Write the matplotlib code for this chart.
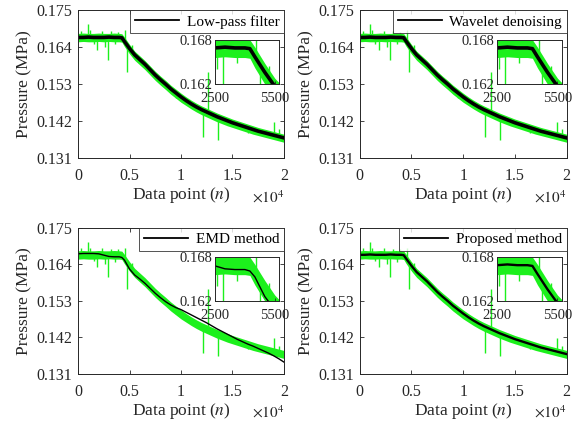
import matplotlib.pyplot as plt

plt.rcParams['font.family'] = 'Liberation Serif'
plt.rcParams['mathtext.fontset'] = 'stix'

# sample positions (data point index)
x = [0, 500, 1000, 1500, 2000, 2500, 3000, 3500, 4000, 4250, 4500, 5000, 5500, 6000,
     6500, 7000, 7500, 8000, 8500, 9000, 9500, 10000, 10500, 11000, 11500, 12000,
     12500, 13000, 13500, 14000, 14500, 15000, 15500, 16000, 16500, 17000, 17500,
     18000, 18500, 19000, 19500, 20000]

# filtered pressure (MPa) - low-pass / wavelet / proposed look alike
smooth = [.1669, .1669, .1670, .1669, .1669, .1669, .1670, .1669, .1669, .1668,
          .1657, .1636, .1617, .1603, .1589, .1573, .1557, .1543, .1530, .1516, .1504, .1492,
          .1481, .1471, .1462, .1454, .1447, .1440, .1433, .1427, .1421, .1415,
          .1410, .1405, .1400, .1395, .1390, .1386, .1382, .1378, .1374, .1370]

# EMD result
emd = [.1672, .1673, .1673, .1673, .1672, .1668, .1664, .1663, .1663, .1661,
       .1653, .1626, .1608, .1596, .1583, .1568, .1553, .1540, .1528, .1518, .1510, .1504,
       .1496, .1488, .1480, .1472, .1464, .1455, .1446, .1438, .1430, .1422,
       .1414, .1407, .1400, .1394, .1387, .1380, .1373, .1365, .1356, .1346]

# envelope of the raw (noisy) measurement
raw_hi = [.1681, .1682, .1681, .1681, .1682, .1681, .1681, .1682, .1681, .1680,
          .1670, .1648, .1628, .1614, .1600, .1584, .1568, .1554, .1541, .1527, .1515, .1503,
          .1492, .1482, .1473, .1465, .1458, .1451, .1444, .1438, .1432, .1426,
          .1421, .1416, .1411, .1406, .1401, .1397, .1393, .1389, .1385, .1381]
raw_lo = [.1656, .1657, .1656, .1656, .1657, .1656, .1657, .1656, .1656, .1655,
          .1642, .1620, .1601, .1587, .1573, .1557, .1541, .1527, .1514, .1500, .1488, .1476,
          .1466, .1456, .1447, .1439, .1432, .1425, .1418, .1412, .1406, .1401,
          .1396, .1391, .1386, .1381, .1377, .1373, .1369, .1365, .1361, .1357]

# spikes in the raw measurement
spike_x = [300, 970, 1200, 1500, 1850, 2300, 2600, 2900, 3200, 3600, 3900, 4560, 4750,
           5200, 9500, 12150, 12650, 13600, 16500, 19030, 19500]
spike_lo = [.1669, .1669, .1669, .1650, .1632, .1669, .1640, .1601, .1669, .1648, .1669,
            .1655, .1566, .1628, .1490, .1372, .1446, .1363, .1385, .1377, .1374]
spike_hi = [.1688, .1709, .1690, .1669, .1669, .1688, .1669, .1669, .1687, .1669, .1685,
            .1691, .1648, .1645, .1504, .1458, .1566, .1433, .1400, .1417, .1395]

labels = ['Low-pass filter', 'Wavelet denoising', 'EMD method', 'Proposed method']
curves = [smooth, smooth, emd, smooth]
widths = [2.6, 2.6, 1.0, 1.7]

y_ticks = [0.131, 0.142, 0.153, 0.164, 0.175]
x_ticks = [0, 5000, 10000, 15000, 20000]
x_ticklabels = ['0', '0.5', '1', '1.5', '2']

green = '#1cf01c'
dark = '#262626'

fig = plt.figure(figsize=(5.83, 4.26), dpi=100)
boxes = [[0.134, 0.629, 0.353, 0.347], [0.617, 0.629, 0.355, 0.347],
         [0.134, 0.122, 0.353, 0.343], [0.617, 0.122, 0.355, 0.343]]


def draw(ax, y, lw, label=None):
    ax.fill_between(x, raw_lo, raw_hi, color=green, lw=0)
    ax.vlines(spike_x, spike_lo, spike_hi, color=green, lw=1.0)
    ax.plot(x, y, color='black', lw=lw, label=label)


for box, label, y, lw in zip(boxes, labels, curves, widths):
    ax = fig.add_axes(box)
    draw(ax, y, lw, label)
    ax.set_xlim(0, 20000)
    ax.set_ylim(0.131, 0.175)
    ax.set_xticks(x_ticks)
    ax.set_xticklabels(x_ticklabels)
    ax.set_yticks(y_ticks)
    ax.set_yticklabels(['%.3f' % v for v in y_ticks])
    ax.tick_params(direction='in', top=True, right=True, length=3, width=0.6,
                   labelsize=11.5, colors=dark, pad=4)
    ax.tick_params(axis='x', pad=7)
    for s in ax.spines.values():
        s.set_linewidth(0.7)
        s.set_color(dark)
    ax.set_xlabel('Data point ($n$)', fontsize=12.5, color=dark, labelpad=1)
    ax.set_ylabel('Pressure (MPa)', fontsize=12.5, color=dark, labelpad=3)
    ax.text(1.0, -0.265, r'$\times10^4$', transform=ax.transAxes, ha='right',
            va='center', fontsize=11, color=dark)
    leg = ax.legend(loc='upper right', fontsize=11, frameon=True, fancybox=False,
                    borderaxespad=0, handlelength=2.9, handletextpad=0.5,
                    borderpad=0.3)
    leg.get_frame().set_edgecolor(dark)
    leg.get_frame().set_linewidth(0.7)
    for h in leg.get_lines():
        h.set_linewidth(1.3)

    ins = ax.inset_axes([0.665, 0.5, 0.31, 0.3])
    draw(ins, y, lw)
    ins.set_xlim(2500, 5700)
    ins.set_ylim(0.162, 0.168)
    ins.set_xticks([2500, 5500])
    ins.set_yticks([0.162, 0.168])
    ins.set_yticklabels(['0.162', '0.168'])
    ins.tick_params(direction='in', length=2, width=0.6, labelsize=10.5,
                    colors=dark, pad=2)
    ins.tick_params(axis='x', pad=6)
    for s in ins.spines.values():
        s.set_linewidth(0.7)
        s.set_color(dark)

fig.savefig('out.png', dpi=100)
